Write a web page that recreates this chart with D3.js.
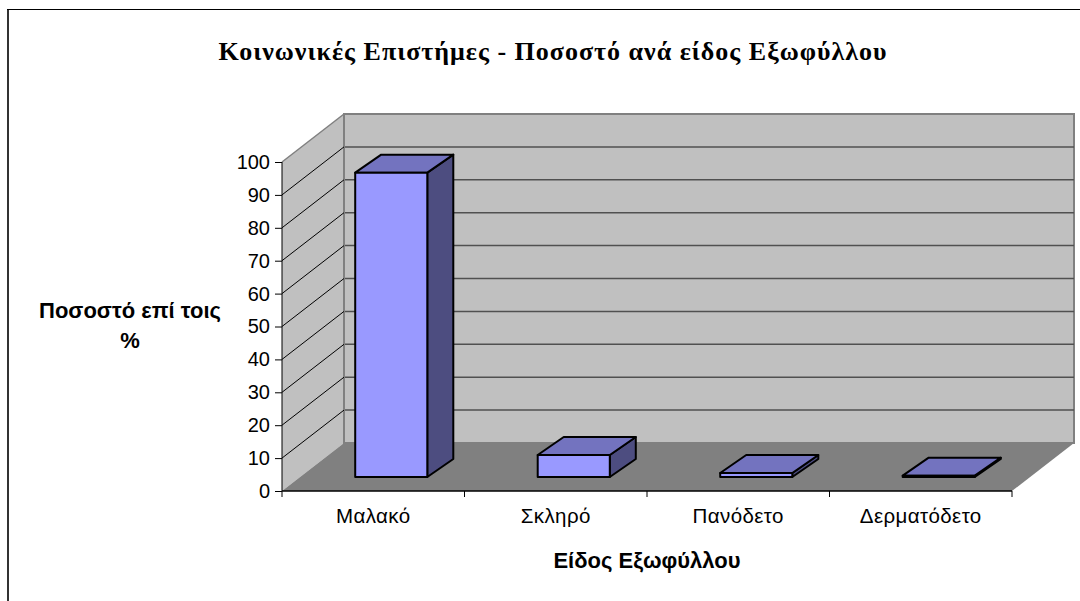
<!DOCTYPE html>
<html>
<head>
<meta charset="utf-8">
<script src="https://cdnjs.cloudflare.com/ajax/libs/d3/7.8.5/d3.min.js"></script>
<style>
	html, body { margin: 0; padding: 0; background: #fff; }
	svg { display: block; }
	text { font-family: "Liberation Sans", sans-serif; fill: #000; }
</style>
</head>
<body>
<div id="chart-area"></div>
<script>
// Chart values
var categories = ['Μαλακό', 'Σκληρό', 'Πανόδετο', 'Δερματόδετο'];
var values     = [92.5, 6.7, 1.2, 0.4];
var yTicks     = [0, 10, 20, 30, 40, 50, 60, 70, 80, 90, 100];
var titleText  = 'Κοινωνικές Επιστήμες - Ποσοστό ανά είδος Εξωφύλλου';
var yTitle     = ['Ποσοστό επί τοις', '%'];
var xTitle     = 'Είδος Εξωφύλλου';

var width  = 1080;
var height = 601;

// Front edge of the floor and the oblique shift back to the wall
var x0 = 282, x1 = 1012;
var depthX = 62, depthY = -48;

var svg = d3.select('#chart-area')
	.append('svg')
		.attr('width', width)
		.attr('height', height);

var x = d3.scaleBand()
	.domain(categories)
	.range([x0, x1])
	.paddingInner(0.605)
	.paddingOuter(0.3025);

var y = d3.scaleLinear()
	.domain([0, 100])
	.range([491, 162]);

function pts(list) {
	return list.map(function(p) { return p.join(','); }).join(' ');
}

// Outer frame, only left and top are visible
svg.append('line')
	.attr('x1', 8).attr('x2', 8)
	.attr('y1', 9).attr('y2', height)
	.attr('stroke', '#333')
	.attr('stroke-width', 2);
svg.append('line')
	.attr('x1', 7).attr('x2', width)
	.attr('y1', 9.5).attr('y2', 9.5)
	.attr('stroke', '#000')
	.attr('stroke-width', 1.2);

// Side wall, back wall, floor
var yTop = y(100), yBottom = y(0);
svg.append('polygon')
	.attr('points', pts([[x0, yTop], [x0 + depthX, yTop + depthY], [x0 + depthX, yBottom + depthY], [x0, yBottom]]))
	.attr('fill', '#c0c0c0');
svg.append('rect')
	.attr('x', x0 + depthX)
	.attr('y', yTop + depthY)
	.attr('width', x1 - x0)
	.attr('height', yBottom - yTop)
	.attr('fill', '#c0c0c0')
	.attr('stroke', '#808080')
	.attr('stroke-width', 2);
svg.append('polygon')
	.attr('points', pts([[x0, yBottom], [x0 + depthX, yBottom + depthY], [x1 + depthX, yBottom + depthY], [x1, yBottom]]))
	.attr('fill', '#808080');
svg.append('line')
	.attr('x1', x0).attr('y1', yTop)
	.attr('x2', x0 + depthX).attr('y2', yTop + depthY)
	.attr('stroke', '#808080')
	.attr('stroke-width', 1.5);

// Grid lines on both walls
var grid = yTicks.filter(function(d) { return d > 0 && d < 100; });
svg.selectAll('.grid-back')
	.data(grid)
	.enter()
	.append('line')
		.attr('class', 'grid-back')
		.attr('x1', x0 + depthX + 1)
		.attr('x2', x1 + depthX)
		.attr('y1', function(d) { return y(d) + depthY; })
		.attr('y2', function(d) { return y(d) + depthY; })
		.attr('stroke', '#505050')
		.attr('stroke-width', 1.5);
svg.selectAll('.grid-side')
	.data(grid)
	.enter()
	.append('line')
		.attr('class', 'grid-side')
		.attr('x1', x0)
		.attr('x2', x0 + depthX)
		.attr('y1', function(d) { return y(d); })
		.attr('y2', function(d) { return y(d) + depthY; })
		.attr('stroke', '#000')
		.attr('stroke-width', 1);

// Axes, drawn by d3 with the tick labels
var yAxisCall = d3.axisLeft(y)
	.tickValues(yTicks)
	.tickSize(7)
	.tickPadding(5);
var yAxisGroup = svg.append('g')
	.attr('transform', 'translate(' + x0 + ',0)')
	.call(yAxisCall);
yAxisGroup.select('.domain').attr('d', 'M0,' + yTop + 'V' + yBottom);
yAxisGroup.selectAll('text').attr('font-size', '20px').style('font-family', '"Liberation Sans", sans-serif');

var xAxisCall = d3.axisBottom(x).tickSize(0).tickPadding(17);
var xAxisGroup = svg.append('g')
	.attr('transform', 'translate(0,' + yBottom + ')')
	.call(xAxisCall);
xAxisGroup.selectAll('text')
	.attr('font-size', '20.5px')
	.attr('letter-spacing', '0.4px')
	.style('font-family', '"Liberation Sans", sans-serif');
xAxisGroup.select('.domain').attr('d', 'M' + x0 + ',0H' + x1).attr('stroke-width', 1.5);

// Category ticks sit between the bars
var step = x.step();
svg.selectAll('.x-tick')
	.data(d3.range(categories.length + 1))
	.enter()
	.append('line')
		.attr('class', 'x-tick')
		.attr('x1', function(d) { return x0 + d * step; })
		.attr('x2', function(d) { return x0 + d * step; })
		.attr('y1', yBottom)
		.attr('y2', yBottom + 6)
		.attr('stroke', '#000');

// Bars stand inset from the front edge of the floor
var insetX = 18, insetY = -14;
var barDepthX = 26, barDepthY = -18;

var bars = svg.selectAll('.bar')
	.data(categories)
	.enter()
	.append('g')
		.attr('class', 'bar')
		.attr('transform', 'translate(' + insetX + ',' + insetY + ')')
		.attr('stroke', '#000')
		.attr('stroke-width', 2)
		.attr('stroke-linejoin', 'round');

bars.append('polygon')
	.attr('fill', '#4d4d80')
	.attr('points', function(d, i) {
		var r = x(d) + x.bandwidth();
		return pts([[r, y(values[i])], [r + barDepthX, y(values[i]) + barDepthY], [r + barDepthX, y(0) + barDepthY], [r, y(0)]]);
	});
bars.append('polygon')
	.attr('fill', '#7373bf')
	.attr('points', function(d, i) {
		var l = x(d), r = l + x.bandwidth();
		return pts([[l, y(values[i])], [l + barDepthX, y(values[i]) + barDepthY], [r + barDepthX, y(values[i]) + barDepthY], [r, y(values[i])]]);
	});
bars.append('rect')
	.attr('fill', '#9999ff')
	.attr('x', function(d) { return x(d); })
	.attr('y', function(d, i) { return y(values[i]); })
	.attr('width', x.bandwidth())
	.attr('height', function(d, i) { return y(0) - y(values[i]); });

// Titles
svg.append('text')
	.attr('x', 553)
	.attr('y', 60)
	.attr('text-anchor', 'middle')
	.attr('font-size', '26px')
	.attr('letter-spacing', '1px')
	.attr('font-weight', 'bold')
	.style('font-family', '"Liberation Serif", serif')
	.text(titleText);

svg.selectAll('.y-title')
	.data(yTitle)
	.enter()
	.append('text')
		.attr('class', 'y-title')
		.attr('x', 130)
		.attr('y', function(d, i) { return 318 + i * 30; })
		.attr('text-anchor', 'middle')
		.attr('font-size', '22px')
		.attr('font-weight', 'bold')
		.text(function(d) { return d; });

svg.append('text')
	.attr('x', 647)
	.attr('y', 568)
	.attr('text-anchor', 'middle')
	.attr('font-size', '22px')
	.attr('font-weight', 'bold')
	.text(xTitle);
</script>
</body>
</html>
